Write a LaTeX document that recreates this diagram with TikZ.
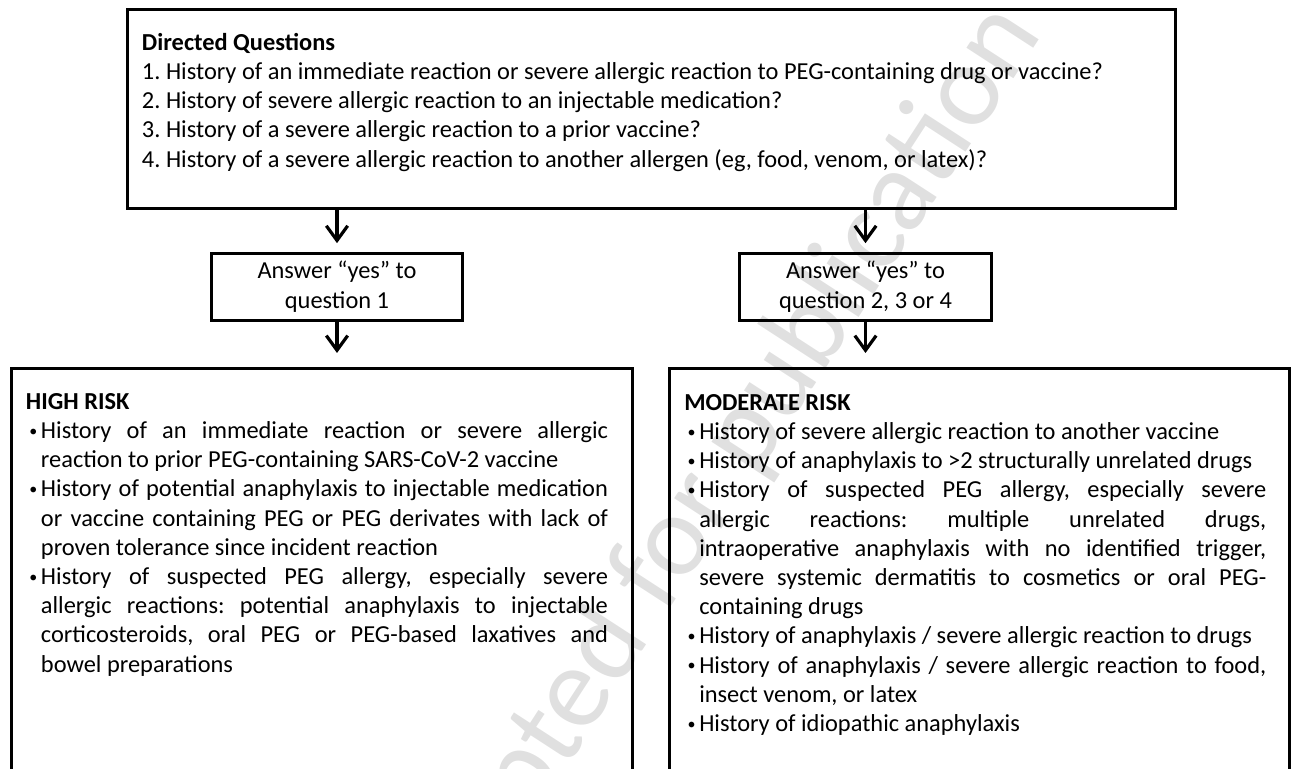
\documentclass[tikz,border=0pt]{standalone}
\usepackage{fontspec}
\setmainfont{Carlito}
\usetikzlibrary{arrows.meta}

\newcommand{\boxfont}{\fontsize{18.3}{21.9}\selectfont\frenchspacing}
\newcommand{\riskbullet}{\makebox[11.25pt][l]{\hspace{2.5pt}\raisebox{1.6pt}{\fontsize{12}{12}\selectfont\textbullet}}}
\newcommand{\riskitem}[1]{\par\noindent\hangindent=11.25pt\hangafter=1\riskbullet#1\par}

\tikzset{
  box/.style={draw, line width=2.3pt, inner sep=0pt},
  txt/.style={font=\boxfont, inner sep=0pt, anchor=north west},
  flow/.style={line width=2.4pt, -{Straight Barb[length=11pt,width=16pt]}},
  stamp/.style={text=black!12, font=\fontsize{88}{88}\selectfont, rotate=57, inner sep=0pt}
}

\begin{document}
\begin{tikzpicture}[x=0.75pt,y=0.75pt,yscale=-1,xscale=1]
\useasboundingbox (0,0) rectangle (1299,768);
\clip (0,0) rectangle (1299,768);

% Watermark
\node [stamp] (stamp) at (700,505) {Accepted for publication};

%Shape: Rectangle [questions]
\node [box, minimum width=786pt, minimum height=149pt] (qbox) at (651.3,109.2) {};
%Shape: Rectangle [answers]
\node [box, font=\boxfont, align=flush center, minimum width=188pt, minimum height=50pt] (yes1) at (337,286.7) {Answer “yes” to\\question 1};
\node [box, font=\boxfont, align=flush center, minimum width=189pt, minimum height=50pt] (yes2) at (865.5,286.7) {Answer “yes” to\\question 2, 3 or 4};
%Shape: Rectangle [risk groups]
\node [box, minimum width=466pt, minimum height=338.6pt] (high) at (322,594.25) {};
\node [box, minimum width=465pt, minimum height=338.6pt] (moderate) at (979.5,594.25) {};

%Straight Lines
\draw [flow, shorten >=6.5pt] (yes1 |- qbox.south) -- (yes1.north);
\draw [flow, shorten >=10.5pt] (yes1.south) -- (high.north -| yes1);
\draw [flow, shorten >=6.5pt] (yes2 |- qbox.south) -- (yes2.north);
\draw [flow, shorten >=10.5pt] (yes2.south) -- (moderate.north -| yes2);

% Text Node
\node [txt, text width=780pt, align=flush left] (qtext) at (141.7,29.6) {\noindent\strut\textbf{Directed Questions}\\
1. History of an immediate reaction or severe allergic reaction to PEG-containing drug or vaccine?\\
2. History of severe allergic reaction to an injectable medication?\\
3. History of a severe allergic reaction to a prior vaccine?\\
4. History of a severe allergic reaction to another allergen (eg, food, venom, or latex)?};
% Text Node
\node [txt, text width=436.5pt, align=justify] (hightext) at (25.7,388.6) {\noindent\strut\textbf{HIGH RISK}
\riskitem{History of an immediate reaction or severe allergic\linebreak reaction to prior PEG-containing SARS-CoV-2 vaccine}
\riskitem{History of potential anaphylaxis to injectable medication\linebreak or vaccine containing PEG or PEG derivates with lack of\linebreak proven tolerance since incident reaction}
\riskitem{History of suspected PEG allergy, especially severe\linebreak allergic reactions: potential anaphylaxis to injectable\linebreak corticosteroids, oral PEG or PEG-based laxatives and\linebreak bowel preparations}};
% Text Node
\node [txt, text width=436.5pt, align=justify] (moderatetext) at (684,389.6) {\noindent\strut\textbf{MODERATE RISK}
\riskitem{History of severe allergic reaction to another vaccine}
\riskitem{History of anaphylaxis to >2 structurally unrelated drugs}
\riskitem{History of suspected PEG allergy, especially severe\linebreak allergic reactions: multiple unrelated drugs,\linebreak intraoperative anaphylaxis with no identified trigger,\linebreak severe systemic dermatitis to cosmetics or oral PEG-\linebreak containing drugs}
\riskitem{History of anaphylaxis / severe allergic reaction to drugs}
\riskitem{History of anaphylaxis / severe allergic reaction to food,\linebreak insect venom, or latex}
\riskitem{History of idiopathic anaphylaxis}};

\end{tikzpicture}
\end{document}
